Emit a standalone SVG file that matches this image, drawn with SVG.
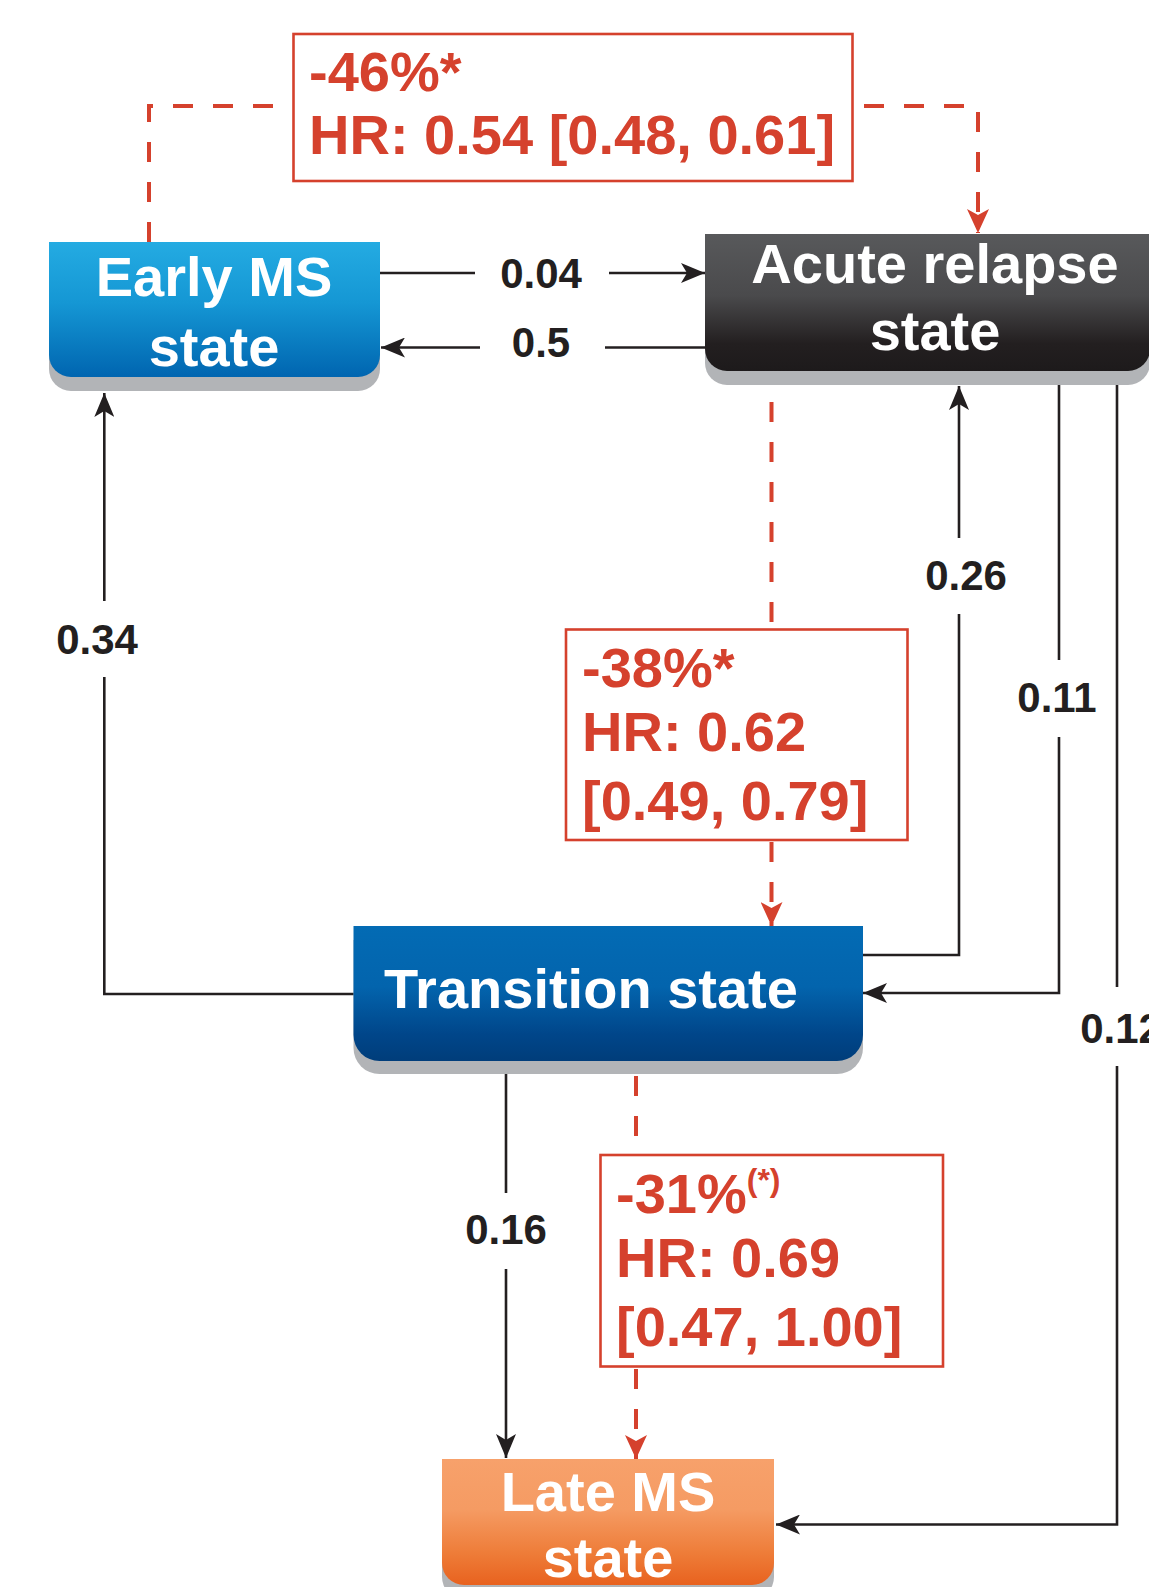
<svg xmlns="http://www.w3.org/2000/svg" width="1149" height="1587" viewBox="0 0 1149 1587">
<defs>
<linearGradient id="gEarly" x1="0" y1="0" x2="0" y2="1">
<stop offset="0" stop-color="#24abe2"/><stop offset="0.45" stop-color="#1597d4"/><stop offset="1" stop-color="#0065b0"/>
</linearGradient>
<linearGradient id="gAcute" x1="0" y1="0" x2="0" y2="1">
<stop offset="0" stop-color="#58595b"/><stop offset="0.45" stop-color="#4a4a4c"/><stop offset="0.8" stop-color="#231f20"/><stop offset="1" stop-color="#1d1a1b"/>
</linearGradient>
<linearGradient id="gTrans" x1="0" y1="0" x2="0" y2="1">
<stop offset="0" stop-color="#036bb4"/><stop offset="0.45" stop-color="#0364ad"/><stop offset="0.8" stop-color="#00468a"/><stop offset="1" stop-color="#003d7a"/>
</linearGradient>
<linearGradient id="gLate" x1="0" y1="0" x2="0" y2="1">
<stop offset="0" stop-color="#f7a16b"/><stop offset="0.4" stop-color="#f59b63"/><stop offset="0.75" stop-color="#ee7c38"/><stop offset="1" stop-color="#e8621f"/>
</linearGradient>
<marker id="aBlack" markerUnits="userSpaceOnUse" viewBox="0 0 24 20" markerWidth="24" markerHeight="20" refX="24" refY="10" orient="auto">
<path d="M0,0 L24,10 L0,20 L6,10 Z" fill="#231f20"/>
</marker>
<marker id="aRed" markerUnits="userSpaceOnUse" viewBox="0 0 24 22" markerWidth="24" markerHeight="22" refX="24" refY="11" orient="auto">
<path d="M0,0 L24,11 L0,22 L6,11 Z" fill="#d5412d"/>
</marker>
<style>
.ln{fill:none;stroke:#231f20;stroke-width:2.6}
.dl{fill:none;stroke:#d5412d;stroke-width:4;stroke-dasharray:20 20}
.lbl{font-family:"Liberation Sans",Arial,sans-serif;font-weight:bold;font-size:42px;fill:#231f20;text-anchor:middle}
.ntx{font-family:"Liberation Sans",Arial,sans-serif;font-weight:bold;font-size:56px;fill:#ffffff;text-anchor:middle}
.rtx{font-family:"Liberation Sans",Arial,sans-serif;font-weight:bold;font-size:56px;fill:#d5412d}
.rbox{fill:#ffffff;stroke:#d5412d;stroke-width:2.6}
.shadow{fill:#b2b4b7}
</style>
</defs>

<g id="connectors">
<path class="ln" d="M380,273 H475"/>
<path class="ln" d="M609,273 H705" marker-end="url(#aBlack)"/>
<path class="ln" d="M705,347.5 H605"/>
<path class="ln" d="M480,347.5 H381" marker-end="url(#aBlack)"/>
<path class="ln" d="M360,994 H104.3 V677"/>
<path class="ln" d="M104.3,601 V393" marker-end="url(#aBlack)"/>
<path class="ln" d="M855,955 H959 V614"/>
<path class="ln" d="M959,538 V386" marker-end="url(#aBlack)"/>
<path class="ln" d="M1059,380 V660"/>
<path class="ln" d="M1059,737 V993 H863" marker-end="url(#aBlack)"/>
<path class="ln" d="M1117,380 V987"/>
<path class="ln" d="M1117,1066 V1524.5 H776" marker-end="url(#aBlack)"/>
<path class="ln" d="M506,1070 V1193"/>
<path class="ln" d="M506,1269 V1458" marker-end="url(#aBlack)"/>

<path class="dl" d="M149,242 V106 H277"/>
<path class="dl" d="M864,106 H978 V233" marker-end="url(#aRed)"/>
<path class="dl" d="M771.5,402 V629"/>
<path class="dl" d="M771.5,842 V926" marker-end="url(#aRed)"/>
<path class="dl" d="M636,1076 V1155"/>
<path class="dl" d="M636,1369 V1459" marker-end="url(#aRed)"/>

<text class="lbl" x="541" y="288">0.04</text>
<text class="lbl" x="541" y="357">0.5</text>
<text class="lbl" x="97" y="654">0.34</text>
<text class="lbl" x="966" y="590">0.26</text>
<text class="lbl" x="1057" y="712">0.11</text>
<text class="lbl" x="1121" y="1043">0.12</text>
<text class="lbl" x="506" y="1244">0.16</text>
</g>

<g id="hr-early-acute">
<rect class="rbox" x="293.5" y="34" width="559" height="147"/>
<text class="rtx" x="309" y="91">-46%*</text>
<text class="rtx" x="309" y="154">HR: 0.54 [0.48, 0.61]</text>
</g>

<g id="hr-acute-transition">
<rect class="rbox" x="566" y="629.5" width="341.5" height="210.5"/>
<text class="rtx" x="582" y="687">-38%*</text>
<text class="rtx" x="582" y="751">HR: 0.62</text>
<text class="rtx" x="582" y="820">[0.49, 0.79]</text>
</g>

<g id="hr-transition-late">
<rect class="rbox" x="600.5" y="1155" width="342.5" height="211.5"/>
<text class="rtx" x="616" y="1213">-31%<tspan font-size="32" dy="-22">(*)</tspan></text>
<text class="rtx" x="616" y="1277">HR: 0.69</text>
<text class="rtx" x="616" y="1346">[0.47, 1.00]</text>
</g>

<g id="node-early">
<path class="shadow" d="M49,256 H380 V369 a22,22 0 0 1 -22,22 H71 a22,22 0 0 1 -22,-22 Z"/>
<path fill="url(#gEarly)" d="M49,242 H380 V355 a22,22 0 0 1 -22,22 H71 a22,22 0 0 1 -22,-22 Z"/>
<text class="ntx" x="214" y="296">Early MS</text>
<text class="ntx" x="214" y="366">state</text>
</g>

<g id="node-acute">
<path class="shadow" d="M705,248 H1150 V363 a22,22 0 0 1 -22,22 H727 a22,22 0 0 1 -22,-22 Z"/>
<path fill="url(#gAcute)" d="M705,234 H1150 V349 a22,22 0 0 1 -22,22 H727 a22,22 0 0 1 -22,-22 Z"/>
<text class="ntx" x="935" y="283">Acute relapse</text>
<text class="ntx" x="935" y="350">state</text>
</g>

<g id="node-transition">
<path class="shadow" d="M353.5,940 H863 V1048 a26,26 0 0 1 -26,26 H379.5 a26,26 0 0 1 -26,-26 Z"/>
<path fill="url(#gTrans)" d="M353.5,926 H863 V1035 a26,26 0 0 1 -26,26 H379.5 a26,26 0 0 1 -26,-26 Z"/>
<text class="ntx" x="384" y="1008" text-anchor="start" style="text-anchor:start">Transition state</text>
</g>

<g id="node-late">
<path class="shadow" d="M442,1473 H774 V1577 a22,22 0 0 1 -22,22 H464 a22,22 0 0 1 -22,-22 Z"/>
<path fill="url(#gLate)" d="M442,1459 H774 V1563 a22,22 0 0 1 -22,22 H464 a22,22 0 0 1 -22,-22 Z"/>
<text class="ntx" x="608" y="1511">Late MS</text>
<text class="ntx" x="608" y="1577">state</text>
</g>
</svg>
